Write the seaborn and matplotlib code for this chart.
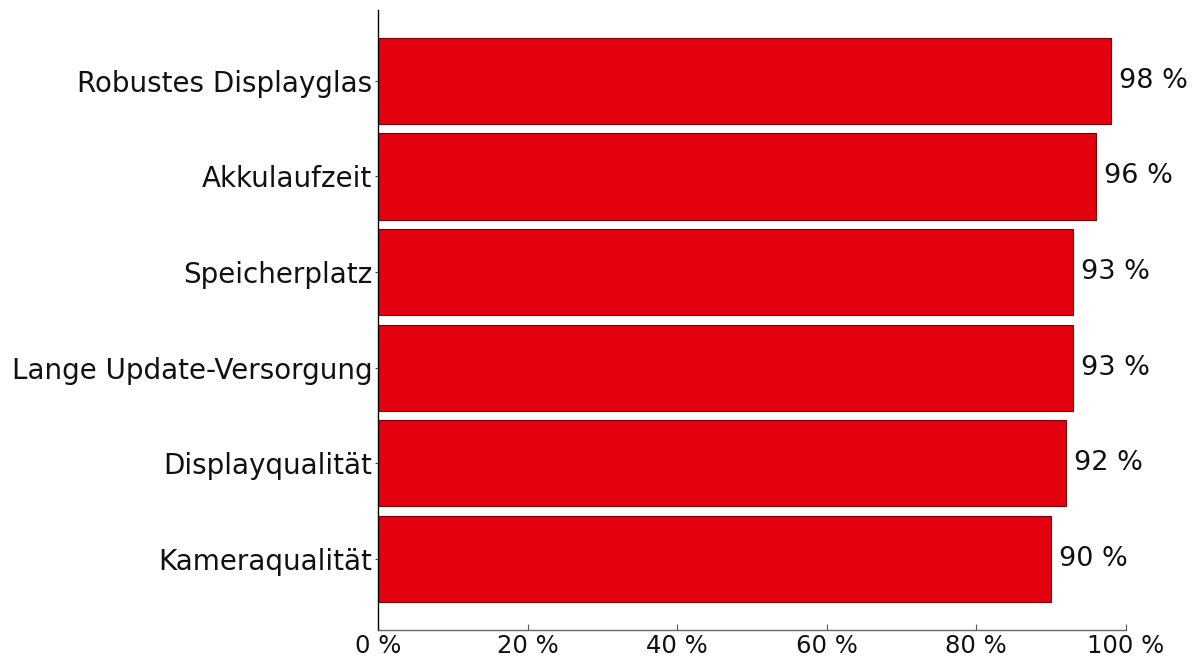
import matplotlib
matplotlib.use("Agg")
import matplotlib.pyplot as plt
import seaborn as sns
import pandas as pd

CATEGORIES = [
    "Robustes Displayglas",
    "Akkulaufzeit",
    "Speicherplatz",
    "Lange Update-Versorgung",
    "Displayqualität",
    "Kameraqualität",
]
VALUES = [98, 96, 93, 93, 92, 90]
X_TICKS = [0, 20, 40, 60, 80, 100]

df = pd.DataFrame({"feature": CATEGORIES, "share": VALUES})

sns.set_theme(style="white")
plt.rcParams['font.family'] = ['DejaVu Sans']

fig = plt.figure(figsize=(12, 6.7), dpi=100)
ax = fig.add_axes([0.315, 0.06, 0.623, 0.925])

sns.barplot(data=df, x="share", y="feature", color="#e3000f", saturation=1,
            edgecolor="#7a0008", linewidth=0.8, width=0.9, ax=ax)

ax.set_xlim(0, 100)
ax.set_ylim(len(CATEGORIES) - 0.26, -0.74)
ax.set_xticks(X_TICKS)
ax.set_xticklabels([f"{t} %" for t in X_TICKS], fontsize=17.5, color="#111111")
ax.tick_params(axis="y", labelsize=20, labelcolor="#111111", length=2, width=0.7,
               pad=2, direction="out", color="#444444", left=True)
ax.tick_params(axis="x", length=4, width=0.8, direction="in", color="#555555",
               bottom=True, pad=3)
ax.set_xlabel("")
ax.set_ylabel("")

for s in ["top", "right"]:
    ax.spines[s].set_visible(False)
ax.spines["left"].set_color("black")
ax.spines["left"].set_linewidth(1.0)
ax.spines["bottom"].set_color("#666666")
ax.spines["bottom"].set_linewidth(1.0)

for bar, v in zip(ax.patches, VALUES):
    ax.text(bar.get_width() + 1.1, bar.get_y() + bar.get_height() / 2, f"{v} %",
            va="center", ha="left", fontsize=19.5, color="#111111", clip_on=False)

fig.savefig("out.png", dpi=100)
